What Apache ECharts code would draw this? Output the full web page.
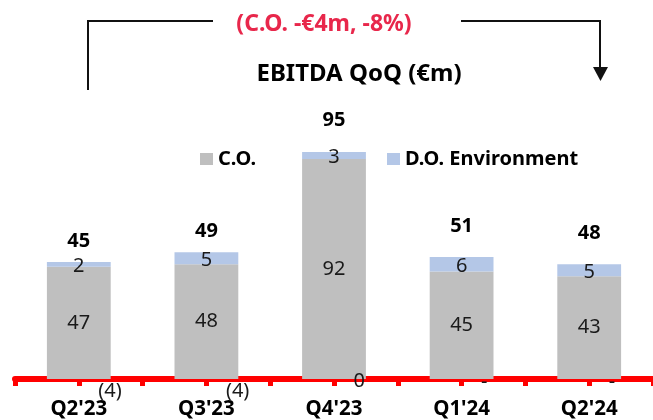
<!DOCTYPE html>
<html>
<head>
<meta charset="utf-8">
<script src="https://cdn.jsdelivr.net/npm/echarts@6/dist/echarts.min.js"></script>
<style>
  html, body { margin: 0; padding: 0; background: #fff; }
  #chart { width: 653px; height: 420px; }
</style>
</head>
<body>
<div id="chart"></div>
<script>
// Quarterly EBITDA split by segment (€m)
const categories = ["Q2'23", "Q3'23", "Q4'23", "Q1'24", "Q2'24"];
const coValues = [47, 48, 92, 45, 43];          // C.O.
const doEnvValues = [2, 5, 3, 6, 5];            // D.O. Environment
const otherValues = [-4, -4, 0.3, 0, 0];        // other / eliminations
const totals = categories.map((_, i) => coValues[i] + doEnvValues[i] + otherValues[i]);

const FONT = '"Noto Sans", "Open Sans", sans-serif';
const RED = '#ff0000';

// accounting style: negatives in brackets, zero as a dash
function acct(v) {
  if (v === 0) return '-';
  if (v < 0) return '(' + Math.round(-v) + ')';
  return String(Math.round(v));
}

const chart = echarts.init(document.getElementById('chart'), null, { renderer: 'canvas' });

chart.setOption({
  animation: false,
  backgroundColor: '#ffffff',
  title: [
    {
      text: '(C.O. -€4m, -8%)',
      left: 319, top: 8, textAlign: 'center',
      textStyle: { color: '#e8274b', fontFamily: FONT, fontWeight: 'bold', fontSize: 23 }
    },
    {
      text: 'EBITDA QoQ (€m)',
      left: 354, top: 57, textAlign: 'center',
      textStyle: { color: '#000', fontFamily: FONT, fontWeight: 'bold', fontSize: 24 }
    }
  ],
  legend: [
    {
      data: ['C.O.'], left: 195, top: 144,
      itemWidth: 13, itemHeight: 12, itemGap: 0, icon: 'rect',
      textStyle: { fontFamily: FONT, fontWeight: 'bold', fontSize: 20, color: '#000' }
    },
    {
      data: ['D.O. Environment'], left: 382, top: 144,
      itemWidth: 13, itemHeight: 12, itemGap: 0, icon: 'rect',
      textStyle: { fontFamily: FONT, fontWeight: 'bold', fontSize: 20, color: '#000' }
    }
  ],
  grid: { left: 15, right: -2, top: 140, bottom: 40, containLabel: false },
  xAxis: [
    {
      type: 'category', data: categories,
      axisLine: { show: true, lineStyle: { color: RED, width: 6 } },
      axisTick: { show: false },
      axisLabel: { margin: 20, color: '#000', fontFamily: FONT, fontWeight: 'bold', fontSize: 20.5 }
    },
    {
      // half-slot axis that only carries the tick marks
      type: 'category', position: 'bottom',
      data: Array.from({ length: categories.length * 2 }, () => ''),
      axisLine: { show: false },
      axisTick: { show: true, interval: 0, length: 7, lineStyle: { color: RED, width: 5 } },
      axisLabel: { show: false }
    }
  ],
  yAxis: {
    type: 'value', min: 0, max: 100, show: false,
    splitLine: { show: false }
  },
  series: [
    {
      name: 'C.O.', type: 'bar', stack: 'ebitda', barWidth: '50%',
      data: coValues,
      itemStyle: { color: '#bfbfbf' },
      label: { show: true, position: 'inside', color: '#1a1a1a', fontFamily: FONT, fontSize: 20 }
    },
    {
      name: 'D.O. Environment', type: 'bar', stack: 'ebitda', barWidth: '50%',
      data: doEnvValues,
      itemStyle: { color: '#b4c7e7' },
      label: { show: true, position: 'inside', offset: [0, 2], color: '#1a1a1a', fontFamily: FONT, fontSize: 20 }
    },
    {
      name: 'Other', type: 'line', data: otherValues, clip: false, silent: true,
      symbol: 'rect', symbolSize: 1, itemStyle: { color: 'transparent' },
      lineStyle: { width: 0, opacity: 0 },
      label: {
        show: true, position: 'right', distance: 19, offset: [0, 3],
        formatter: p => acct(p.value),
        color: '#1a1a1a', fontFamily: FONT, fontSize: 20
      },
      z: 5
    },
    {
      name: 'Total', type: 'line', data: totals, silent: true,
      symbol: 'rect', symbolSize: 1, itemStyle: { color: 'transparent' },
      lineStyle: { width: 0, opacity: 0 },
      label: {
        show: true, position: 'top', distance: 20,
        formatter: p => String(Math.round(p.value)),
        color: '#000', fontFamily: FONT, fontWeight: 'bold', fontSize: 20
      },
      z: 5
    }
  ],
  graphic: [
    {
      type: 'polyline', silent: true,
      shape: { points: [[88, 90], [88, 21], [213, 21]] },
      style: { stroke: '#111', lineWidth: 2, fill: null }
    },
    {
      type: 'polyline', silent: true,
      shape: { points: [[461, 21], [600, 21], [600, 70]] },
      style: { stroke: '#111', lineWidth: 2, fill: null }
    },
    {
      type: 'polygon', silent: true,
      shape: { points: [[593, 67], [608, 67], [600.5, 81]] },
      style: { fill: '#111' }
    }
  ]
});
</script>
</body>
</html>
